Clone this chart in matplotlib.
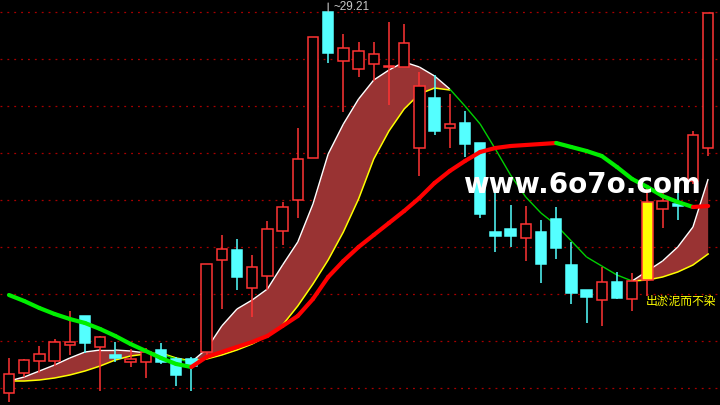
import matplotlib
matplotlib.use('Agg')
import matplotlib.pyplot as plt
from matplotlib.patches import Rectangle
from matplotlib.collections import LineCollection
import numpy as np

# daily candles
opens = [21.59, 21.99, 22.23, 22.23, 22.55, 23.13, 22.51, 22.35, 22.21, 22.21,
         22.45, 22.27, 22.27, 22.41, 24.25, 24.45, 23.69, 23.93, 24.83, 25.45,
         26.29, 29.21, 28.23, 28.07, 28.17, 28.11, 28.11, 26.49, 27.49, 26.89,
         26.99, 26.59, 24.81, 24.87, 24.69, 24.81, 25.07, 24.15, 23.65, 23.45,
         23.81, 23.47, 23.85, 25.27, 25.37, 25.83, 26.49]
highs = [22.29, 22.27, 22.53, 22.67, 23.23, 23.13, 22.73, 22.61, 22.47, 22.49,
         22.59, 22.31, 22.31, 24.17, 24.75, 24.67, 24.35, 25.03, 25.41, 26.89,
         28.71, 29.21, 28.77, 28.61, 28.61, 29.01, 28.97, 28.01, 27.95, 27.57,
         27.23, 26.59, 25.67, 25.35, 25.33, 25.05, 25.31, 24.61, 23.65, 24.11,
         24.01, 23.99, 25.67, 25.59, 25.91, 26.83, 29.19]
lows = [21.41, 21.91, 21.99, 22.13, 22.35, 22.39, 21.63, 22.21, 22.11, 21.89,
        22.17, 21.73, 21.63, 22.31, 23.27, 23.65, 23.11, 23.65, 24.55, 25.09,
        26.29, 28.19, 27.21, 27.91, 27.83, 27.35, 28.11, 25.93, 26.75, 26.49,
        26.31, 25.09, 24.41, 24.51, 24.23, 23.79, 24.27, 23.37, 22.99, 22.93,
        23.47, 23.23, 23.53, 24.89, 25.05, 25.77, 26.33]
closes = [21.97, 22.25, 22.37, 22.61, 22.61, 22.59, 22.71, 22.29, 22.27, 22.41,
          22.21, 21.95, 22.13, 24.17, 24.47, 23.91, 24.11, 24.87, 25.31, 26.27,
          28.71, 28.39, 28.49, 28.43, 28.37, 28.12, 28.59, 27.73, 26.83, 26.97,
          26.57, 25.17, 24.73, 24.73, 24.97, 24.17, 24.49, 23.59, 23.51, 23.81,
          23.49, 23.83, 25.41, 25.43, 25.33, 26.75, 29.19]

# long moving average (thick red/green line)
ma_long = [23.55, 23.43, 23.29, 23.17, 23.07, 22.99, 22.87, 22.73, 22.57, 22.43,
           22.29, 22.17, 22.11, 22.31, 22.41, 22.51, 22.61, 22.73, 22.93, 23.13,
           23.47, 23.91, 24.23, 24.51, 24.75, 24.99, 25.23, 25.49, 25.79, 26.03,
           26.23, 26.41, 26.49, 26.53, 26.55, 26.57, 26.59, 26.51, 26.43, 26.33,
           26.11, 25.87, 25.71, 25.53, 25.41, 25.31, 25.33]

# band lines: fast (white / thin green) and slow (yellow)
fast = [21.83, 21.91, 22.03, 22.15, 22.29, 22.41, 22.45, 22.45, 22.43, 22.39,
        22.37, 22.27, 22.21, 22.47, 22.93, 23.27, 23.45, 23.67, 24.15, 24.61,
        25.37, 26.37, 26.97, 27.47, 27.85, 28.05, 28.21, 28.11, 27.93, 27.67,
        27.33, 26.97, 26.47, 25.95, 25.51, 25.19, 24.95, 24.63, 24.31, 24.13,
        23.95, 23.83, 24.03, 24.23, 24.51, 24.91, 25.87]
nan = np.nan
slow = [21.83, 21.83, 21.85, 21.89, 21.95, 22.03, 22.13, 22.25, 22.33, 22.37,
        22.39, 22.29, 22.23, 22.27, 22.35, 22.45, 22.57, 22.73, 22.95, 23.33,
        23.77, 24.25, 24.81, 25.47, 26.27, 26.83, 27.27, 27.57, 27.69, 27.65,
        nan, nan, nan, nan, nan, nan, nan, nan, nan, nan,
        nan, 23.83, 23.85, 23.91, 24.01, 24.15, 24.37]

signals = [42]
signal_text = "出淤泥而不染"
watermark = "www.6o7o.com"

RED = '#ff3333'
CYAN = '#54ffff'

n = len(closes)
x = np.arange(n)
U = np.array(fast)
L = np.array(slow, dtype=float)
ma = np.array(ma_long)

fig = plt.figure(figsize=(7.2, 4.06), dpi=100)
fig.patch.set_facecolor('black')
ax = fig.add_axes([0, 0, 1, 1])
ax.set_facecolor('black')
ax.set_xlim(-0.59, 46.78)
ax.set_ylim(21.35, 29.47)
ax.axis('off')

# dotted price grid, stepping down from the high
top = max(highs)
for k in range(9):
    ax.axhline(top - 0.94 * k, color='#a80000', lw=0.9,
               linestyle=(0, (1.5, 4.0)), zorder=0)

# band
with np.errstate(invalid='ignore'):
    up_band = U >= L
ax.fill_between(x, U, L, where=up_band, interpolate=True,
                color='#993333', lw=0, zorder=1)
ax.plot(x, L, color='#ffff00', lw=1.1, zorder=2)

segs = [[(i, U[i]), (i + 1, U[i + 1])] for i in range(n - 1)]
cols = []
for i in range(n - 1):
    if not np.isnan(L[i + 1]) and U[i + 1] > L[i + 1]:
        cols.append('white')
    else:
        cols.append('#00d000')
ax.add_collection(LineCollection(segs, colors=cols, linewidths=1.0, zorder=2.1))

# candles
w = 0.68
for i in range(n):
    o, h, l, c = opens[i], highs[i], lows[i], closes[i]
    up = c >= o
    col = RED if up else CYAN
    lo_b, hi_b = min(o, c), max(o, c)
    ax.vlines(i, hi_b, h, color=col, lw=1.1, zorder=3)
    ax.vlines(i, l, lo_b, color=col, lw=1.1, zorder=3)
    if i in signals:
        fc, ec = '#ffff00', RED
    else:
        fc, ec = ('black', RED) if up else (CYAN, CYAN)
    ax.add_patch(Rectangle((i - w / 2, lo_b), w, max(hi_b - lo_b, 0.001),
                           facecolor=fc, edgecolor=ec, lw=1.1, zorder=3.5))

# thick moving average, red when rising, green when falling
msegs = [[(i, ma[i]), (i + 1, ma[i + 1])] for i in range(n - 1)]
mcols = ['#ff0000' if ma[i + 1] > ma[i] else '#00ee00' for i in range(n - 1)]
ax.add_collection(LineCollection(msegs, colors=mcols, linewidths=3.0,
                                 capstyle='round', zorder=5))

# high marker
imax = int(np.argmax(highs))
ax.annotate('', xy=(imax, highs[imax]), xytext=(0, 9), textcoords='offset pixels',
            arrowprops=dict(arrowstyle='-', color='#c8c8c8', lw=0.8,
                            shrinkA=0, shrinkB=0), zorder=6)
ax.annotate('~%.2f' % highs[imax], xy=(imax, highs[imax]), xytext=(5, 6),
            textcoords='offset pixels', ha='left', va='center',
            color='#c8c8c8', fontsize=8.5, family='Liberation Sans', zorder=6)

# signal text
for s in signals:
    ax.annotate(signal_text, xy=(s, lows[s]), xytext=(-2, -4),
                textcoords='offset pixels', ha='left', va='center',
                color='#ffff00', fontsize=8.5,
                family=['Noto Sans CJK SC', 'DejaVu Sans'], zorder=6)

ax.text(0.643, 0.525, watermark, transform=ax.transAxes, ha='left',
        va='baseline', color='white', fontsize=20, fontweight='bold',
        family='DejaVu Sans', zorder=7)

fig.savefig('out.png', dpi=100, facecolor='black')
